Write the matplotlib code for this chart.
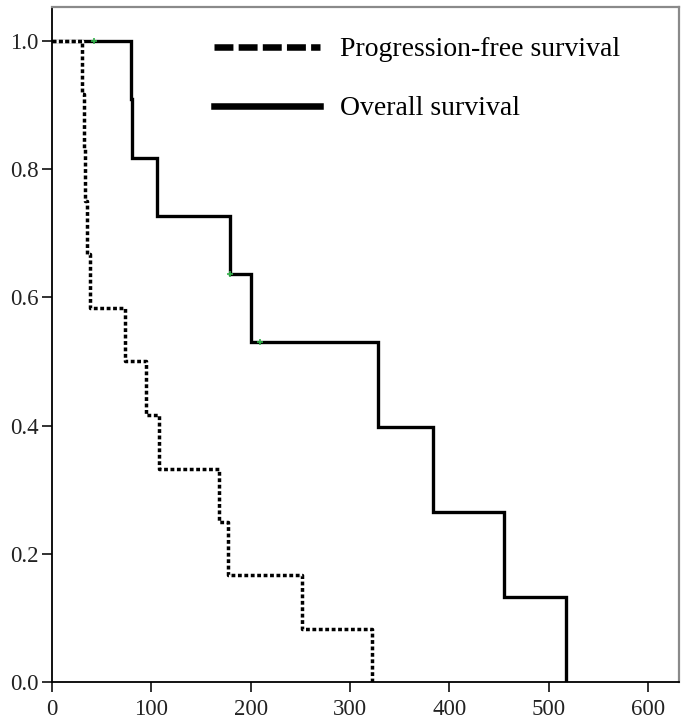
import matplotlib
matplotlib.use("Agg")
import matplotlib.pyplot as plt
from matplotlib.lines import Line2D

plt.rcParams['font.family'] = ['Liberation Serif', 'DejaVu Serif']

# Overall survival (Kaplan-Meier steps)
os_time = [0, 80, 81, 106, 179, 200, 328, 383, 455, 517]
os_surv = [1.0, 0.909, 0.818, 0.727, 0.636, 0.530, 0.398, 0.265, 0.133, 0.0]
os_cens_time = [42, 179, 209]
os_cens_surv = [1.0, 0.636, 0.530]

# Progression-free survival
pfs_time = [0, 30, 32, 33, 35, 38, 73, 95, 108, 168, 177, 252, 322]
pfs_surv = [1.0, 0.917, 0.833, 0.75, 0.667, 0.583, 0.5, 0.417, 0.333, 0.25, 0.167, 0.083, 0.0]

x_ticks = [0, 100, 200, 300, 400, 500, 600]
y_ticks = [0.0, 0.2, 0.4, 0.6, 0.8, 1.0]
y_labels = ["0.0", "0.2", "0.4", "0.6", "0.8", "1.0"]
legend_labels = ["Progression-free survival", "Overall survival"]

fig = plt.figure(figsize=(6.85, 7.23), dpi=100)
ax = fig.add_axes([0.0759, 0.0567, 0.9912 - 0.0759, 0.9903 - 0.0567])

ax.step(os_time, os_surv, where='post', color='black', lw=2.4,
        solid_joinstyle='miter', zorder=3)
ax.step(pfs_time, pfs_surv, where='post', color='black', lw=2.5,
        linestyle=(0, (1.1, 0.75)), dash_capstyle='butt', gapcolor='white',
        zorder=4)
ax.plot(os_cens_time, os_cens_surv, linestyle='none', marker='+',
        color='#33b04a', markersize=5, mew=1.2, zorder=5)

ax.set_xlim(0, 631)
ax.set_ylim(0, 1.053)
ax.set_xticks(x_ticks)
ax.set_yticks(y_ticks)
ax.set_yticklabels(y_labels)
ax.tick_params(direction='out', length=7.5, width=1.3, labelsize=16.5,
               colors='#222222')
ax.tick_params(axis='x', pad=5)
ax.tick_params(axis='y', pad=2)

for s in ['left', 'bottom']:
    ax.spines[s].set_color('black')
    ax.spines[s].set_linewidth(1.3)
for s in ['top', 'right']:
    ax.spines[s].set_color('#8a8a8a')
    ax.spines[s].set_linewidth(1.6)

handles = [
    Line2D([], [], color='black', lw=4.7, linestyle=(0, (2.9, 0.8)),
           dash_capstyle='butt'),
    Line2D([], [], color='black', lw=4.7),
]
ax.legend(handles, legend_labels, loc='upper left',
          bbox_to_anchor=(0.241, 0.972), frameon=False, fontsize=20,
          handlelength=3.8, handletextpad=0.72, labelspacing=1.2,
          borderaxespad=0.0)

fig.savefig("out.png", dpi=100)
